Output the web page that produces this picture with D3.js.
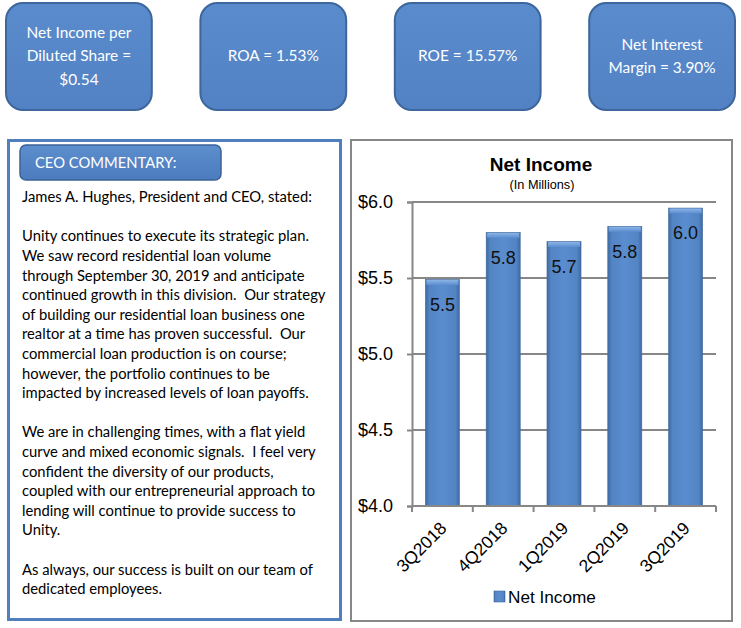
<!DOCTYPE html>
<html>
<head>
<meta charset="utf-8">
<script src="https://cdn.jsdelivr.net/npm/d3@7"></script>
<style>
html,body{margin:0;padding:0;background:#fff;}
svg{display:block;}
</style>
</head>
<body>
<svg id="c" width="741" height="628"></svg>
<script>
// ---------- DATA ----------
const categories = ["3Q2018", "4Q2018", "1Q2019", "2Q2019", "3Q2019"];
const netIncome = [5.49, 5.80, 5.74, 5.84, 5.96];
const yTicks = [4.0, 4.5, 5.0, 5.5, 6.0];
const chartTitle = "Net Income";
const chartSubtitle = "(In Millions)";
const seriesName = "Net Income";
const kpiTexts = [
  ["Net Income per", "Diluted Share =", "$0.54"],
  ["ROA = 1.53%"],
  ["ROE = 15.57%"],
  ["Net Interest", "Margin = 3.90%"]
];
const commentaryHeader = "CEO COMMENTARY:";
const commentaryLines = [
  "James A. Hughes, President and CEO, stated:",
  "",
  "Unity continues to execute its strategic plan.",
  "We saw record residential loan volume",
  "through September 30, 2019 and anticipate",
  "continued growth in this division.  Our strategy",
  "of building our residential loan business one",
  "realtor at a time has proven successful.  Our",
  "commercial loan production is on course;",
  "however, the portfolio continues to be",
  "impacted by increased levels of loan payoffs.",
  "",
  "We are in challenging times, with a flat yield",
  "curve and mixed economic signals.  I feel very",
  "confident the diversity of our products,",
  "coupled with our entrepreneurial approach to",
  "lending will continue to provide success to",
  "Unity.",
  "",
  "As always, our success is built on our team of",
  "dedicated employees."
];

// ---------- SETUP ----------
const svg = d3.select("#c");
const bodyFont = "Lato, 'Open Sans', sans-serif";
const chartFont = "'Liberation Sans', Arial, sans-serif";

// helper: fit font size so a sample string hits a target width
function fitSize(font, weight, base, sample, target) {
  const t = svg.append("text").attr("font-family", font).attr("font-weight", weight)
    .attr("font-size", base).text(sample);
  const w = t.node().getComputedTextLength();
  t.remove();
  return base * target / w;
}

const defs = svg.append("defs");
const kg = defs.append("linearGradient").attr("id", "kpiGrad").attr("x1", 0).attr("y1", 0).attr("x2", 0).attr("y2", 1);
kg.append("stop").attr("offset", "0%").attr("stop-color", "#5a8bcc");
kg.append("stop").attr("offset", "100%").attr("stop-color", "#5282c4");

const bg = defs.append("linearGradient").attr("id", "barGrad").attr("x1", 0).attr("y1", 0).attr("x2", 1).attr("y2", 0);
[["0%", "#3e6aa3"], ["12%", "#5384c4"], ["50%", "#5a8dcf"], ["88%", "#5384c4"], ["100%", "#3e6aa3"]]
  .forEach(([o, c]) => bg.append("stop").attr("offset", o).attr("stop-color", c));
const tg = defs.append("linearGradient").attr("id", "capGrad").attr("x1", 0).attr("y1", 0).attr("x2", 0).attr("y2", 1);
tg.append("stop").attr("offset", "0%").attr("stop-color", "#8cb4e6");
tg.append("stop").attr("offset", "100%").attr("stop-color", "#5a8dcf");

const hg = defs.append("linearGradient").attr("id", "hdrGrad").attr("x1", 0).attr("y1", 0).attr("x2", 0).attr("y2", 1);
hg.append("stop").attr("offset", "0%").attr("stop-color", "#5c8dcd");
hg.append("stop").attr("offset", "100%").attr("stop-color", "#4c7cbd");

// ---------- KPI BOXES ----------
const kpiX = d3.scaleBand().domain(d3.range(kpiTexts.length)).range([6, 735]).paddingInner(0.25).paddingOuter(0);
const kpiFs = fitSize(bodyFont, 400, 15, "Net Income per", 105);
const kpi = svg.append("g").selectAll("g").data(kpiTexts).join("g")
  .attr("transform", (d, i) => `translate(${kpiX(i)},3)`);
kpi.append("rect").attr("width", kpiX.bandwidth()).attr("height", 107).attr("rx", 17).attr("ry", 17)
  .attr("fill", "url(#kpiGrad)").attr("stroke", "#3c669c").attr("stroke-width", 2);
kpi.each(function (lines) {
  const g = d3.select(this);
  const lh = 23.5;
  const start = 53 - (lines.length - 1) * lh / 2;
  lines.forEach((ln, j) => {
    g.append("text").attr("x", kpiX.bandwidth() / 2).attr("y", start + j * lh)
      .attr("dy", "0.35em").attr("text-anchor", "middle")
      .attr("font-family", bodyFont).attr("font-size", kpiFs).attr("fill", "#fff").text(ln);
  });
});

// ---------- CEO COMMENTARY ----------
svg.append("rect").attr("x", 8.5).attr("y", 140.5).attr("width", 332).attr("height", 479)
  .attr("fill", "#fff").attr("stroke", "#4f7fbc").attr("stroke-width", 3);
svg.append("rect").attr("x", 20).attr("y", 145).attr("width", 201).attr("height", 35).attr("rx", 6)
  .attr("fill", "url(#hdrGrad)").attr("stroke", "#3a6296").attr("stroke-width", 1.5);
const bodyFs = fitSize(bodyFont, 400, 15, commentaryLines[0], 290);
svg.append("text").attr("x", 35).attr("y", 163).attr("dy", "0.35em")
  .attr("font-family", bodyFont).attr("font-size", bodyFs).attr("fill", "#fff").text(commentaryHeader);
svg.append("g").selectAll("text").data(commentaryLines).join("text")
  .attr("x", 22).attr("y", (d, i) => 197 + i * 19.6).attr("dy", "0.35em")
  .attr("font-family", bodyFont).attr("font-size", bodyFs).attr("fill", "#000")
  .attr("xml:space", "preserve").style("white-space", "pre").text(d => d);

// ---------- CHART ----------
svg.append("rect").attr("x", 351).attr("y", 140).attr("width", 381).attr("height", 481)
  .attr("fill", "#fff").attr("stroke", "#878787").attr("stroke-width", 2);

const x = d3.scaleBand().domain(categories).range([412, 716]).paddingInner(0.44).paddingOuter(0.22);
const y = d3.scaleLinear().domain([4.0, 6.0]).range([506, 202]);

svg.append("text").attr("x", 541).attr("y", 171).attr("text-anchor", "middle")
  .attr("font-family", chartFont).attr("font-weight", "bold").attr("font-size", 19).attr("fill", "#000").text(chartTitle);
svg.append("text").attr("x", 542).attr("y", 189).attr("text-anchor", "middle")
  .attr("font-family", chartFont).attr("font-size", 12.7).attr("fill", "#000").text(chartSubtitle);

// gridlines
svg.append("g").selectAll("line").data(yTicks).join("line")
  .attr("x1", 412).attr("x2", 716).attr("y1", d => y(d)).attr("y2", d => y(d))
  .attr("stroke", "#878787").attr("stroke-width", 2);

// y axis
const yAxis = svg.append("g").attr("transform", "translate(412,0)")
  .call(d3.axisLeft(y).tickValues(yTicks).tickFormat(d => "$" + d3.format(".1f")(d)).tickSize(5).tickPadding(14));
yAxis.select(".domain").attr("stroke", "#878787").attr("stroke-width", 2);
yAxis.selectAll(".tick line").attr("stroke", "#878787").attr("stroke-width", 2);
yAxis.selectAll("text").attr("font-family", chartFont).attr("font-size", 18).attr("fill", "#000");

// bars
const bars = svg.append("g").selectAll("g").data(categories).join("g");
bars.append("rect").attr("x", d => x(d)).attr("width", x.bandwidth())
  .attr("y", (d, i) => y(netIncome[i])).attr("height", (d, i) => y(4.0) - y(netIncome[i]))
  .attr("fill", "url(#barGrad)").attr("stroke", "#41689a").attr("stroke-width", 0.6);
bars.append("rect").attr("x", d => x(d) + 1).attr("width", x.bandwidth() - 2)
  .attr("y", (d, i) => y(netIncome[i]) + 0.5).attr("height", 5)
  .attr("fill", "url(#capGrad)");
bars.append("text").attr("x", d => x(d) + x.bandwidth() / 2)
  .attr("y", (d, i) => y(netIncome[i]) + 25).attr("dy", "0.35em").attr("text-anchor", "middle")
  .attr("font-family", chartFont).attr("font-size", 18).attr("fill", "#111")
  .text((d, i) => d3.format(".1f")(netIncome[i]));

// x axis (ticks at band boundaries)
const xAxisG = svg.append("g");
xAxisG.append("line").attr("x1", 412).attr("x2", 716).attr("y1", 506).attr("y2", 506)
  .attr("stroke", "#878787").attr("stroke-width", 2);
const bounds = d3.range(categories.length + 1).map(i => 412 + i * (304 / categories.length));
xAxisG.selectAll("line.tk").data(bounds).join("line").attr("class", "tk")
  .attr("x1", d => d).attr("x2", d => d).attr("y1", 506).attr("y2", 512)
  .attr("stroke", "#878787").attr("stroke-width", 2);
xAxisG.selectAll("text").data(categories).join("text")
  .attr("transform", d => `translate(${x(d) + x.bandwidth() / 2 + 1},${525}) rotate(-45)`)
  .attr("text-anchor", "end").attr("dy", "0.35em")
  .attr("font-family", chartFont).attr("font-size", 17.5).attr("fill", "#000").text(d => d);

// legend
svg.append("rect").attr("x", 494).attr("y", 591).attr("width", 11).attr("height", 11)
  .attr("fill", "url(#barGrad)").attr("stroke", "#41689a").attr("stroke-width", 0.6);
svg.append("text").attr("x", 508).attr("y", 596.5).attr("dy", "0.35em")
  .attr("font-family", chartFont).attr("font-size", 17.2).attr("fill", "#000").text(seriesName);
</script>
</body>
</html>
